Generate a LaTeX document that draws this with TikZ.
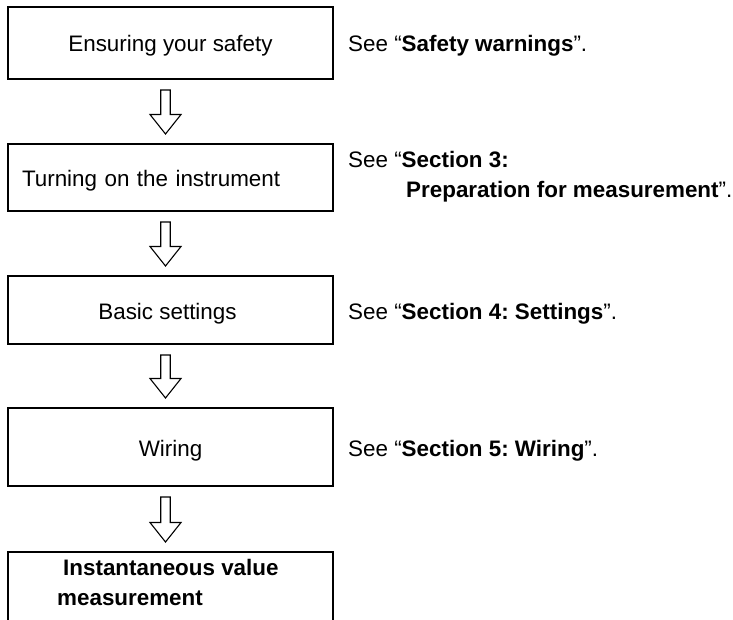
\documentclass[tikz,border=0pt]{standalone}
\usepackage{fontspec}
\setmainfont{Liberation Sans}
\usetikzlibrary{calc}
\tikzset{
  stepbox/.style={draw=black, line width=2pt, minimum width=325pt, inner sep=0pt, text height=20pt, text depth=2pt, font=\fontsize{22.4pt}{31pt}\selectfont},
  refnote/.style={anchor=west, inner sep=0pt, align=left, font=\fontsize{22.4pt}{30pt}\selectfont},
  blockarrow/.style={draw=black, line width=1.1pt, line join=miter, fill=white}
}
\newcommand{\blkarrow}[2]{%
  \draw[blockarrow]
    ($(#1.south)+(-9.75,10)$) -- ($(#1.south)+(-0.25,10)$) --
    ($(#2.north)+(-0.25,-28.5)$) -- ($(#2.north)+(10.5,-28.5)$) --
    ($(#2.north)+(-5,-9)$) --
    ($(#2.north)+(-20.5,-28.5)$) -- ($(#2.north)+(-9.75,-28.5)$) -- cycle;}
\begin{document}
\frenchspacing
\begin{tikzpicture}[x=1pt, y=-1pt]
\useasboundingbox (0,0) rectangle (733,620);
\clip (0,0) rectangle (733,620);
\node[stepbox, minimum height=72pt] (b1) at (170.5,43) {Ensuring your safety};
\node[stepbox, minimum height=67pt, text width=297pt, align=left, inner xsep=14pt] (b2) at (170.5,177.5) {Turning on the instrument};
\node[stepbox, minimum height=68pt] (b3) at (170.5,310) {\hspace*{-6pt}Basic settings};
\node[stepbox, minimum height=78pt] (b4) at (170.5,447) {Wiring};
\node[stepbox, minimum height=120pt, anchor=north] (b5) at (170.5,551) {};
\node[refnote] (t5) at (57,582) {\hspace*{6pt}\textbf{Instantaneous value}\\\textbf{measurement}};
\node[refnote, text height=20pt, text depth=2pt] (r1) at (348,43) {See “\textbf{Safety warnings}”.};
\node[refnote] (r2) at (348,177) {See “\textbf{Section 3:}\\\hspace*{58pt}\textbf{Preparation for measurement}”.};
\node[refnote, text height=20pt, text depth=2pt] (r3) at (348,310) {See “\textbf{Section 4: Settings}”.};
\node[refnote, text height=20pt, text depth=2pt] (r4) at (348,447) {See “\textbf{Section 5: Wiring}”.};
\blkarrow{b1}{b2}
\blkarrow{b2}{b3}
\blkarrow{b3}{b4}
\blkarrow{b4}{b5}
\end{tikzpicture}
\end{document}
